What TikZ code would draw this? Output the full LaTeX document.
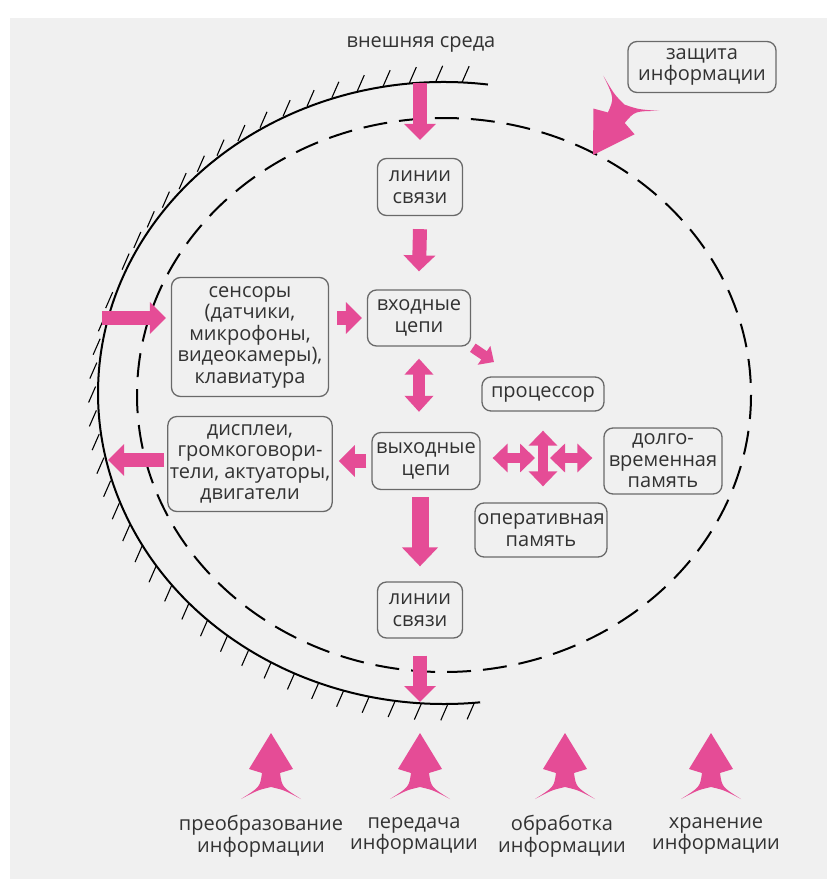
\documentclass[tikz,border=0pt]{standalone}
\usepackage{fontspec}
\setmainfont{Open Sans}
\usetikzlibrary{arrows.meta}
\definecolor{paper}{RGB}{240,240,240}
\definecolor{rose}{RGB}{229,76,150}
\definecolor{ink}{RGB}{50,50,50}
\definecolor{frame}{RGB}{105,105,105}

\begin{document}
\begin{tikzpicture}[x=1pt, y=-1pt,
  txt/.style={text=ink, align=center, font=\fontsize{20}{21.5}\selectfont},
  box/.style={txt, draw=frame, line width=1.3pt, rounded corners=9pt, inner sep=2pt},
  blk/.style={rose, line width=14pt, -{Triangle[length=16pt,width=31pt]}},
  blkbig/.style={rose, line width=17pt, -{Triangle[length=19pt,width=35pt]}},
  blksmall/.style={rose, line width=10pt, -{Triangle[length=12pt,width=22pt]}},
  blktwo/.style={rose, line width=12pt, {Triangle[length=16pt,width=28pt]}-{Triangle[length=16pt,width=28pt]}},
  blkcross/.style={rose, line width=10pt, {Triangle[length=15pt,width=28pt]}-{Triangle[length=15pt,width=28pt]}},
  hatch/.style={black, line width=1.1pt},
  feather/.pic={
    \fill[rose] (0,0) -- (-22,36) -- (-9,40) .. controls (-11,54) .. (-30,66)
      .. controls (-13,57) .. (0,54) .. controls (13,57) .. (30,66)
      .. controls (11,54) .. (9,40) -- (22,36) -- cycle;
  }
]

\useasboundingbox (0,0) rectangle (827,879);
\fill[paper] (10,18) rectangle (827,879);

% environment boundary
\draw[line width=2pt] (444,393) ++(-82.7:346 and 311)
  arc[start angle=-82.7, end angle=-276, x radius=346, y radius=311];
\foreach \a in {87,91.372,...,275.1}{
  \pgfmathsetmacro\nx{1000*cos(\a)/346}
  \pgfmathsetmacro\ny{1000*sin(\a)/311}
  \pgfmathsetmacro\nn{sqrt(\nx*\nx+\ny*\ny)}
  \pgfmathsetmacro\hd{(7*\nx+16*\ny)/(17.46*\nn)}
  \pgfmathsetmacro\hs{sign(\hd)}
  \pgfmathsetmacro\off{4*(1-abs(\hd))}
  \draw[hatch] ({444+346*cos(\a)+\off*\nx/\nn},{393-311*sin(\a)-\off*\ny/\nn})
    -- ++({7*\hs},{-16*\hs});
}

% computer boundary
\draw[line width=2pt, dash pattern=on 24pt off 12pt] (444,395) ellipse[x radius=307, y radius=277];

\node[txt] (env) at (421,44) {внешняя среда};
\node[box, minimum width=148pt, minimum height=51pt] (guard) at (702,67) {защита\\информации};

\node[box, minimum width=85pt, minimum height=57pt] (lines1) at (420,187) {линии\\связи};
\node[box, minimum width=157pt, minimum height=119pt] (sens) at (250,337) {сенсоры\\(датчики,\\микрофоны,\\видеокамеры),\\клавиатура};
\node[box, minimum width=103pt, minimum height=56pt] (inp) at (419,318) {входные\\цепи};
\node[box, minimum width=122pt, minimum height=34pt] (cpu) at (543,394) {процессор};
\node[box, minimum width=164pt, minimum height=95pt] (disp) at (250,464) {дисплеи,\\громкоговори-\\тели, актуаторы,\\двигатели};
\node[box, minimum width=108pt, minimum height=57pt] (out) at (426,461) {выходные\\цепи};
\node[box, minimum width=118pt, minimum height=66pt] (ltm) at (663,461) {долго-\\временная\\память};
\node[box, minimum width=132pt, minimum height=54pt] (ram) at (541,530) {оперативная\\память};
\node[box, minimum width=85pt, minimum height=56pt] (lines2) at (420,610) {линии\\связи};

\coordinate (envin) at (420,83);
\coordinate (sensin) at (102,318);
\coordinate (tocpu) at (494,362);
\coordinate (hub) at (542,458);
\coordinate (envout) at (420,702);
\coordinate (dispout) at (108,460);

\draw[blk] (envin) -- ([yshift=18pt]lines1.north);
\draw[blk] ([yshift=-13pt]lines1.south) -- ([yshift=18pt]inp.north);
\draw[blk] (sensin) -- ([xshift=-5pt]sensin -| sens.west);
\draw[blk] ([xshift=8pt]sens.east |- inp.west) -- ([xshift=-5pt]inp.west);
\draw[blksmall, shorten <=2pt] (inp.south east) -- (tocpu);
\draw[blktwo] ([yshift=-12pt]inp.south) -- ([yshift=20pt]inp.south |- out.north);
\draw[blk] ([xshift=-5pt]out.west) -- ([xshift=6pt]out.west -| disp.east);
\draw[blkcross] ([xshift=12pt]hub -| out.east) -- ([xshift=-7pt]hub);
\draw[blkcross] ([xshift=8pt]hub) -- ([xshift=-11pt]hub -| ltm.west);
\draw[blkcross] ([yshift=-19pt]cpu.south) -- ([yshift=16pt]cpu.south |- ram.north);
\draw[blkbig] ([yshift=-7pt]lines2.north |- out.south) -- ([yshift=15pt]lines2.north);
\draw[blk] ([yshift=-17pt]lines2.south) -- (envout);
\draw[blk] ([xshift=-3pt]disp.west |- dispout) -- (dispout);

\pic[rotate=148, scale=1.1] at (593,155) {feather};

\pic at (271,733) {feather};
\pic at (420,733) {feather};
\pic at (565,733) {feather};
\pic at (711,733) {feather};

\node[txt] (convert) at (261,836) {преобразование\\информации};
\node[txt] (send) at (414,836) {передача\\информации};
\node[txt] (process) at (562,836) {обработка\\информации};
\node[txt] (keep) at (716,836) {хранение\\информации};

\end{tikzpicture}
\end{document}
